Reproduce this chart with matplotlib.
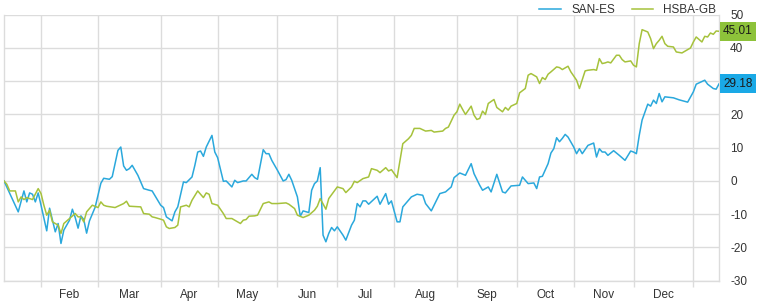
import numpy as np
import matplotlib
matplotlib.use("Agg")
import matplotlib.pyplot as plt
from matplotlib.ticker import FixedLocator, NullFormatter, FixedFormatter

plt.rcParams['font.family'] = ['Liberation Sans', 'DejaVu Sans']

# trading-session index for each reading (0 = first session shown)
san_days = [0, 5, 7, 8, 9, 10, 11, 12, 13, 15, 16, 17, 18, 19, 20, 21, 23, 24, 25, 26,
            27, 28, 29, 30, 32, 34, 35, 37, 38, 40, 41, 42, 43, 44, 45, 47, 49, 51, 52, 55,
            56, 57, 59, 60, 61, 63, 64, 66, 67, 68, 69, 70, 71, 73, 74, 75, 77, 78, 80, 81,
            82, 84, 85, 87, 88, 89, 91, 92, 93, 94, 96, 98, 99, 100, 101, 103, 104, 105, 107, 108,
            109, 110, 111, 112, 113, 114, 115, 116, 117, 119, 120, 122, 123, 124, 125, 126, 127, 128, 131, 132,
            134, 135, 136, 138, 139, 140, 143, 145, 147, 148, 150, 153, 155, 157, 158, 160, 162, 164, 165, 167,
            168, 170, 171, 173, 175, 176, 178, 181, 182, 184, 186, 187, 188, 189, 191, 192, 193, 194, 195, 196,
            197, 198, 200, 201, 202, 203, 205, 207, 208, 209, 210, 211, 212, 214, 216, 218, 220, 221, 222, 223,
            224, 226, 227, 228, 229, 230, 231, 232, 235, 237, 240, 242, 243, 246, 247, 249, 250, 251]
san_vals = [0, -9.3, -3, -6.3, -3.6, -4, -6.3, -3.6, -7.3, -15, -8.2, -11.8, -15.3, -12.8, -18.8, -14.8, -11.8, -8.5, -11, -14.2,
            -10.5, -11.6, -15.7, -12, -7.9, -0.7, 0.8, 0.5, 1.3, 9.2, 10.2, 4.5, 3.2, 3.7, 4.7, 1.7, -2.3, -2.8, -3, -7.3,
            -8, -10.8, -12, -9.3, -7.8, -0.3, -0.5, 1.2, 4.7, 8.7, 9, 7.4, 10.2, 13.7, 8.7, 7, -0.1, 0, -1.8, 0.2,
            -0.5, 0, 0, 2, 1, 0.5, 9.4, 8.2, 8.2, 6.2, 3.2, 0, 0.4, 2, 0.2, -4.8, -10.6, -9, -9.5, -2.8,
            -0.8, 0, 4, -16.3, -18.3, -15.8, -14, -15, -13.8, -16.3, -17.8, -13.3, -11.8, -6.8, -7.8, -6, -6, -7, -4.6, -7,
            -3.8, -7, -6, -12.3, -12.3, -7.8, -4.8, -4, -4.3, -6.8, -9, -3.8, -3.3, -1.8, 1, 2.4, 1.7, 5.2, 2.2, -1.3,
            -2.8, -1.8, -3.3, 2, -3.3, -3.6, -1.5, -1.3, 1.2, -0.8, -0.6, -2.3, 1.2, 1.4, 5.2, 8.4, 9.7, 13, 11.8, 12.8,
            14, 13.2, 10.2, 8.2, 9.7, 8.2, 10.7, 11.4, 7.2, 9.7, 8.7, 8.7, 7.7, 9.1, 7.7, 6.2, 9, 8.7, 8.2, 13.7,
            18.3, 23.1, 22.5, 24.3, 23.3, 26.3, 23.8, 25.3, 25, 24.4, 23.7, 26.8, 29.1, 30.3, 29.1, 27.8, 27.6, 29.18]

hsba_days = [0, 1, 2, 4, 5, 6, 7, 8, 10, 12, 13, 14, 15, 16, 17, 19, 20, 21, 23, 25,
             26, 27, 28, 29, 31, 33, 34, 35, 36, 39, 41, 42, 43, 44, 48, 49, 51, 52, 53, 55,
             56, 57, 58, 60, 61, 62, 64, 65, 66, 68, 70, 71, 72, 73, 75, 77, 78, 80, 81, 83,
             84, 85, 86, 88, 89, 91, 93, 94, 96, 99, 100, 102, 103, 105, 107, 109, 110, 111, 113, 114,
             117, 119, 120, 122, 123, 124, 126, 128, 129, 131, 132, 134, 135, 136, 138, 139, 140, 142, 143, 144,
             146, 148, 150, 151, 154, 155, 156, 158, 159, 160, 161, 162, 164, 165, 166, 167, 168, 169, 170, 172,
             173, 175, 176, 177, 178, 180, 181, 183, 184, 185, 187, 188, 189, 190, 191, 192, 194, 195, 196, 198,
             199, 201, 202, 204, 205, 207, 208, 209, 210, 211, 212, 213, 215, 216, 217, 218, 220, 221, 222, 223,
             224, 226, 227, 228, 229, 230, 231, 232, 233, 235, 236, 238, 240, 241, 242, 243, 245, 246, 247, 248,
             249, 250, 251]
hsba_vals = [0, -1, -3, -3, -6.3, -4.8, -5.6, -5, -5.6, -2.3, -3.8, -7.3, -10.3, -8.8, -12.3, -13.3, -15.8, -12.8, -11.3, -9.8,
             -10.8, -10.8, -12.3, -9.3, -7.3, -8, -6.3, -7.3, -7.6, -8, -7.2, -6.8, -6.1, -7.6, -7.8, -9.8, -10, -10.8, -11, -11.5,
             -11.8, -13.8, -14.3, -14, -13.3, -7.8, -7.3, -7.8, -5.8, -3, -5, -3.6, -4, -6.8, -7.3, -9.8, -11.3, -11.3, -11.8, -12.8,
             -11.8, -11.6, -10.6, -10.5, -10.3, -6.8, -6.3, -6.8, -6.8, -6.6, -7, -8.3, -10.3, -11, -10.3, -8.8, -7.6, -5.3, -8.5, -5.3,
             -1.8, -2.3, -3.5, -1.8, -0.1, -0.5, 0.7, 1.2, 3.7, 3.2, 2.5, 4, 3, 3.4, 1, 6.2, 11.2, 12.7, 13.7, 15.8,
             15.8, 15, 15.2, 14.7, 15, 15.8, 16.2, 19.8, 20.8, 23.1, 21.5, 20, 22.5, 19.8, 18.5, 18.8, 21, 20, 23.3, 24.5,
             22.1, 20.8, 22.1, 21.3, 22.5, 23.3, 26.5, 27.8, 31.8, 32.3, 31.3, 29.3, 31.1, 30.5, 32.1, 32.8, 34.3, 34.1, 33.5, 34.5,
             32.8, 30.3, 27.8, 33.1, 33.3, 33.5, 33.3, 36.8, 35.3, 35.5, 35.8, 35.5, 37.8, 37.8, 36.5, 35.8, 36.1, 34.8, 34.3, 41.3,
             45.5, 44.8, 42.8, 39.8, 41.3, 42.3, 43.5, 41.3, 40.5, 40.3, 38.8, 38.5, 39.5, 40, 41.8, 43.3, 41.8, 43.5, 43.3, 44.5,
             44.1, 45.1, 45.01]

# month boundaries (session index) and labels
month_starts = [13, 33, 55, 75, 96, 117, 137, 159, 180, 200, 221, 242]
month_names = ['Feb', 'Mar', 'Apr', 'May', 'Jun', 'Jul', 'Aug', 'Sep', 'Oct', 'Nov', 'Dec']
month_mids = [(a + b) / 2 for a, b in zip(month_starts[:-1], month_starts[1:])]

# right-axis ticks; the 30 label sits under the SAN-ES flag in the original
y_ticks = [-30, -20, -10, 0, 10, 20, 30, 40, 50]
y_labels = ['-30', '-20', '-10', '0', '10', '20', '', '40', '50']

san_color = '#2aa8dc'
hsba_color = '#a6c23c'
grid_color = '#dcdcdc'

fig = plt.figure(figsize=(7.61, 3.08), dpi=100)
ax = fig.add_axes([4 / 761, 1 - 280.7 / 308, 715 / 761, 266 / 308])

ax.plot(san_days, san_vals, color=san_color, lw=1.1, label='SAN-ES', zorder=3)
ax.plot(hsba_days, hsba_vals, color=hsba_color, lw=1.1, label='HSBA-GB', zorder=3)

ax.set_xlim(0, 251)
ax.set_ylim(-30, 50)

ax.yaxis.tick_right()
ax.set_yticks(y_ticks)
ax.set_yticklabels(y_labels)
ax.tick_params(axis='y', length=0, pad=8, labelsize=8.5, labelcolor='#333333')

ax.xaxis.set_major_locator(FixedLocator(month_starts))
ax.xaxis.set_major_formatter(NullFormatter())
ax.xaxis.set_minor_locator(FixedLocator(month_mids))
ax.xaxis.set_minor_formatter(FixedFormatter(month_names))
ax.tick_params(axis='x', which='major', length=4, color=grid_color, width=1)
ax.tick_params(axis='x', which='minor', length=0, pad=6, labelsize=8.5, labelcolor='#333333')

ax.grid(True, which='major', color=grid_color, lw=1)
for side in ['left', 'right', 'bottom']:
    ax.spines[side].set_color(grid_color)
    ax.spines[side].set_linewidth(1)
ax.spines['top'].set_visible(False)

# last-value flags on the right axis
for val, col in [(san_vals[-1], '#1aa9e6'), (hsba_vals[-1], '#8dc23a')]:
    ax.annotate(f'{val:.2f}', xy=(1, val), xycoords=('axes fraction', 'data'),
                xytext=(3, 0), textcoords='offset points', ha='left', va='center',
                fontsize=8.5, color='#1a1a1a',
                bbox=dict(boxstyle='square,pad=0.3', fc=col, ec='none'),
                annotation_clip=False, zorder=5)

fig.legend(loc='upper right', bbox_to_anchor=(727 / 761, 1.02), ncol=2, frameon=False,
           fontsize=8.5, handlelength=1.8, handletextpad=0.9, columnspacing=1.4,
           labelcolor='#333333')

fig.savefig('out.png', dpi=100)
